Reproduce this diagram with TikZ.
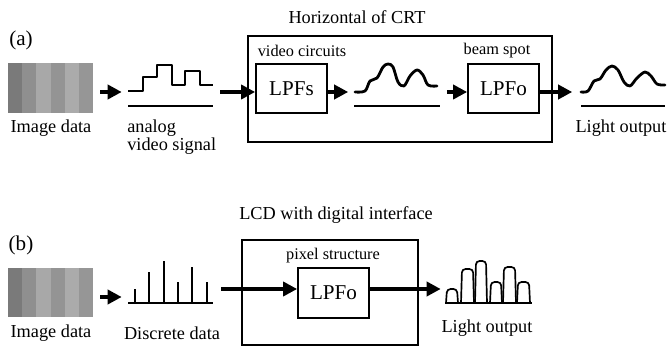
\documentclass[tikz,border=0pt]{standalone}
\usepackage{fontspec}
\setmainfont{Liberation Serif}
\usetikzlibrary{arrows.meta}

% grey stripes of the test image
\definecolor{gA}{gray}{0.48}
\definecolor{gB}{gray}{0.56}
\definecolor{gC}{gray}{0.66}
\definecolor{gD}{gray}{0.58}
\definecolor{gE}{gray}{0.67}
\definecolor{gF}{gray}{0.59}

\tikzset{
  lbl/.style={font=\fontsize{13}{12.8}\selectfont, inner sep=0pt},
  partlbl/.style={font=\fontsize{15}{17}\selectfont, inner sep=0pt},
  small/.style={font=\fontsize{11.6}{13}\selectfont, inner sep=0pt},
  box/.style={draw, line width=1.2pt, inner sep=0pt},
  lpf/.style={box, minimum width=1.775cm, minimum height=1.225cm, font=\fontsize{15}{17}\selectfont},
  imgbox/.style={inner sep=0pt, minimum width=2.125cm, minimum height=1.25cm},
  sigbox/.style={inner sep=0pt, minimum width=2.125cm, minimum height=0pt},
  flow/.style={line width=2.8pt, -{Triangle[length=10pt,width=10pt]}},
  wave/.style={line width=2pt, line cap=round, line join=round},
  axis/.style={line width=1.2pt}
}

\begin{document}
\begin{tikzpicture}[x=0.025cm, y=-0.025cm]
\useasboundingbox (0,0) rectangle (670,347);

\coordinate (rowA)  at (0,92);
\coordinate (rowB1) at (0,297);
\coordinate (rowB)  at (0,289);

%------------------------------------------------------
% (a) CRT
\node[partlbl] (capA)   at (21,40)  {(a)};
\node[lbl]     (titleA) at (357,17) {Horizontal of CRT};

% image data
\foreach \c [count=\i] in {gA,gB,gC,gD,gE,gF}
  \fill[\c] ({8+(\i-1)*85/6},63) rectangle ++(85/6,50);
\node[imgbox] (imgA) at (50.5,88) {};
\node[lbl] (imgtxtA) at (51,128) {Image data};

% analog video signal
\node[sigbox] (analog) at (170.5,92) {};
\draw[axis] (128,106) -- (213,106);
\draw[wave, line cap=butt] (128,91) -| (143,77) -| (157,65) -| (172,85) -| (185,71) -| (200,85) -- (213,85);
\node[lbl, align=left, anchor=west] (analogtxt) at (127,137) {analog\\video signal};

% CRT box
\node[box, minimum width=7.6cm, minimum height=2.65cm] (crt) at (400,89) {};
\node[small] (vcirc) at (302,51) {video circuits};
\node[small] (bspot) at (497,51) {beam spot};
\node[lpf] (LPFs)  at (291.5,88.5) {LPFs};
\node[lpf] (LPFoA) at (503.5,88.5) {LPFo};

% signal after video circuits
\node[sigbox] (wave1) at (397,92) {};
\draw[axis] (354,106) -- (440,106);
\draw[wave] plot[smooth, tension=0.55] coordinates {(355,92) (365,91) (370,81) (377,78) (383,67) (388,64) (393,67) (398,82) (404,86) (410,76) (417,70) (423,75) (428,85) (437,86)};

% light output
\node[sigbox] (wave2) at (623,92) {};
\draw[axis] (581,106) -- (665,106);
\draw[wave] plot[smooth, tension=0.55] coordinates {(581,92) (588,91) (594,81) (600,79) (606,70) (612,66) (618,70) (624,82) (630,86) (637,78) (645,72) (651,76) (657,84) (665,85)};
\node[lbl] (lightA) at (621,128) {Light output};

% arrows
\draw[flow, shorten <=0.175cm, shorten >=0.15cm] (imgA.east |- rowA) -- (analog.west);
\draw[flow, shorten <=0.175cm] (analog.east) -- (LPFs.west |- rowA);
\draw[flow, shorten >=0.15cm] (LPFs.east |- rowA) -- (wave1.west);
\draw[flow, shorten <=0.175cm] (wave1.east) -- (LPFoA.west |- rowA);
\draw[flow, shorten >=0.2cm] (LPFoA.east |- rowA) -- (wave2.west);

%------------------------------------------------------
% (b) LCD
\node[partlbl] (capB)   at (21,245)  {(b)};
\node[lbl]     (titleB) at (336,215) {LCD with digital interface};

% image data
\foreach \c [count=\i] in {gA,gB,gC,gD,gE,gF}
  \fill[\c] ({8+(\i-1)*85/6},268) rectangle ++(85/6,49);
\node[imgbox] (imgB) at (50.5,292.5) {};
\node[lbl] (imgtxtB) at (51,333) {Image data};

% discrete data
\node[sigbox] (discrete) at (170.5,297) {};
\draw[axis] (128,303) -- (213,303);
\foreach \x/\t in {135/289, 149/272, 164/261, 178/282, 192/267, 207/282}
  \draw[line width=1.6pt] (\x,303) -- (\x,\t);
\node[lbl] (disctxt) at (172,333) {Discrete data};

% LCD box
\node[box, minimum width=4.4cm, minimum height=2.625cm] (lcd) at (330,292.5) {};
\node[small] (pixtxt) at (333,256) {pixel structure};
\node[lpf, minimum height=1.25cm] (LPFoB) at (333.5,293) {LPFo};

% light output pulses
\node[sigbox] (pulses) at (488.5,289) {};
\draw[axis] (445,303) -- (532,303);
\foreach \a/\b/\t in {447/457/289, 462/473/269, 476/486/261, 491/501/282, 504/515/267, 518/529/282}
  \draw[line width=1.2pt, rounded corners=2.5pt] (\a-1,303) -- (\a,\t) -- (\b,\t) -- (\b+1,303);
\node[lbl] (lightB) at (487,328) {Light output};

% arrows
\draw[flow, shorten <=0.175cm, shorten >=0.15cm] (imgB.east |- rowB1) -- (discrete.west);
\draw[flow, shorten <=0.2cm] (discrete.east |- rowB) -- (LPFoB.west |- rowB);
\draw[flow, shorten >=0.125cm] (LPFoB.east |- rowB) -- (pulses.west);
\end{tikzpicture}
\end{document}
